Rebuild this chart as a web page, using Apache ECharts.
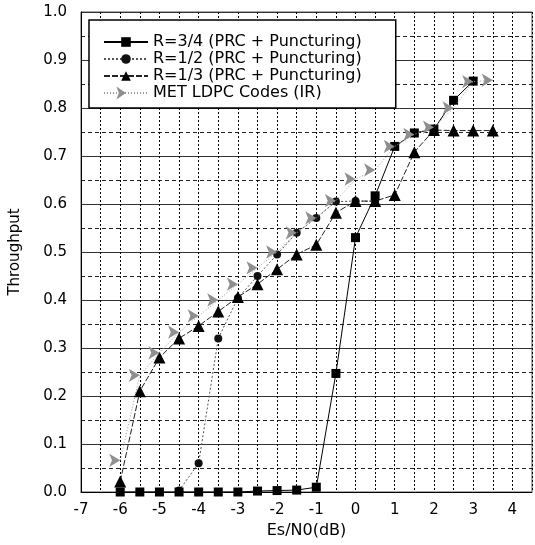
<!DOCTYPE html>
<html>
<head>
<meta charset="utf-8">
<script src="https://cdn.jsdelivr.net/npm/echarts@6/dist/echarts.min.js"></script>
<style>html,body{margin:0;padding:0;background:#fff;}#c{width:535px;height:545px;}</style>
</head>
<body>
<div id="c"></div>
<script>
// Series names
const seriesNames = ['R=3/4 (PRC + Puncturing)', 'R=1/2 (PRC + Puncturing)', 'R=1/3 (PRC + Puncturing)', 'MET LDPC Codes (IR)'];

// R=3/4 (squares)
const xR34 = [-6, -5.5, -5, -4.5, -4, -3.5, -3, -2.5, -2, -1.5, -1, -0.5, 0, 0.5, 1, 1.5, 2, 2.5, 3];
const yR34 = [0, 0, 0, 0, 0, 0, 0, 0.002, 0.003, 0.004, 0.01, 0.247, 0.53, 0.617, 0.72, 0.748, 0.756, 0.816, 0.856];

// R=1/2 (circles)
const xR12 = [-4.5, -4, -3.5, -3, -2.5, -2, -1.5, -1, -0.5, 0, 0.5];
const yR12 = [0.003, 0.06, 0.32, 0.404, 0.45, 0.495, 0.54, 0.571, 0.605, 0.606, 0.606];

// R=1/3 (triangles)
const xR13 = [-6, -5.5, -5, -4.5, -4, -3.5, -3, -2.5, -2, -1.5, -1, -0.5, 0, 0.5, 1, 1.5, 2, 2.5, 3, 3.5];
const yR13 = [0.022, 0.21, 0.28, 0.32, 0.346, 0.376, 0.406, 0.433, 0.464, 0.495, 0.515, 0.582, 0.606, 0.606, 0.619, 0.708, 0.754, 0.753, 0.753, 0.753];

// MET LDPC Codes (IR)
const xMET = [-6, -5.5, -5, -4.5, -4, -3.5, -3, -2.5, -2, -1.5, -1, -0.5, 0, 0.5, 1, 1.5, 2, 2.5, 3, 3.5];
const yMET = [0.066, 0.243, 0.29, 0.333, 0.367, 0.40, 0.433, 0.467, 0.50, 0.54, 0.571, 0.607, 0.652, 0.671, 0.72, 0.745, 0.76, 0.80, 0.855, 0.858];

// Axis settings
const xMin = -7, xMax = 4.5, xStep = 0.5;
const yMin = 0, yMax = 1.0, yStep = 0.1;
const xTitle = 'Es/N0(dB)';
const yTitle = 'Throughput';

const pair = (xs, ys) => xs.map((x, i) => [x, ys[i]]);
const FONT = 'DejaVu Sans';

const chart = echarts.init(document.getElementById('c'), null, {renderer: 'canvas'});
chart.setOption({
  animation: false,
  backgroundColor: '#fff',
  grid: {left: 81, right: 2, top: 12, bottom: 53, show: true, borderColor: '#555', borderWidth: 1, backgroundColor: 'transparent'},
  legend: {
    data: seriesNames,
    orient: 'vertical',
    left: 89, top: 20,
    padding: [14, 34, 7, 14],
    itemWidth: 44, itemHeight: 12, itemGap: 1,
    backgroundColor: '#fff',
    borderColor: '#000', borderWidth: 1.5,
    selectedMode: false,
    textStyle: {fontFamily: FONT, fontSize: 16, color: '#000', lineHeight: 15}
  },
  xAxis: {
    type: 'value', min: xMin, max: xMax, interval: xStep,
    name: xTitle, nameLocation: 'middle', nameGap: 27,
    nameTextStyle: {fontFamily: FONT, fontSize: 16, color: '#000'},
    axisLine: {show: true, onZero: false, lineStyle: {color: '#000', width: 1}},
    axisTick: {show: false},
    axisLabel: {
      margin: 11, fontFamily: FONT, fontSize: 15, color: '#000',
      formatter: v => (Math.abs(v - Math.round(v)) < 1e-9 ? String(Math.round(v)) : '')
    },
    splitLine: {show: true, lineStyle: {color: '#000', width: 1, type: [2, 2]}}
  },
  yAxis: {
    type: 'value', min: yMin, max: yMax, interval: yStep,
    name: yTitle, nameLocation: 'middle', nameGap: 58,
    nameTextStyle: {fontFamily: FONT, fontSize: 15, color: '#000'},
    axisLine: {show: true, onZero: false, lineStyle: {color: '#000', width: 1}},
    axisTick: {show: false},
    axisLabel: {margin: 14, fontFamily: FONT, fontSize: 15, color: '#000', formatter: v => v.toFixed(1)},
    splitLine: {show: true, lineStyle: {color: '#333', width: 1, type: 'solid'}},
    minorTick: {show: false, splitNumber: 2},
    minorSplitLine: {show: true, lineStyle: {color: '#222', width: 1, type: [4, 3]}}
  },
  series: [
    {
      name: seriesNames[1], type: 'line', data: pair(xR12, yR12), z: 3,
      symbol: 'circle', symbolSize: 8,
      itemStyle: {color: '#111'},
      lineStyle: {color: '#555', width: 1, type: [2, 2]}
    },
    {
      name: seriesNames[2], type: 'line', data: pair(xR13, yR13), z: 4,
      symbol: 'triangle', symbolSize: 12,
      itemStyle: {color: '#000'},
      lineStyle: {color: '#222', width: 1, type: [6, 2]}
    },
    {
      name: seriesNames[0], type: 'line', data: pair(xR34, yR34), z: 5,
      symbol: 'rect', symbolSize: 9,
      itemStyle: {color: '#000'},
      lineStyle: {color: '#000', width: 1, type: 'solid'}
    },
    {
      name: seriesNames[3], type: 'line', data: pair(xMET, yMET), z: 6,
      symbol: 'arrow', symbolSize: [10, 11], symbolRotate: -90,
      itemStyle: {color: '#8f8f8f'},
      lineStyle: {color: '#999', width: 1, type: [1, 2]}
    }
  ]
});
</script>
</body>
</html>
